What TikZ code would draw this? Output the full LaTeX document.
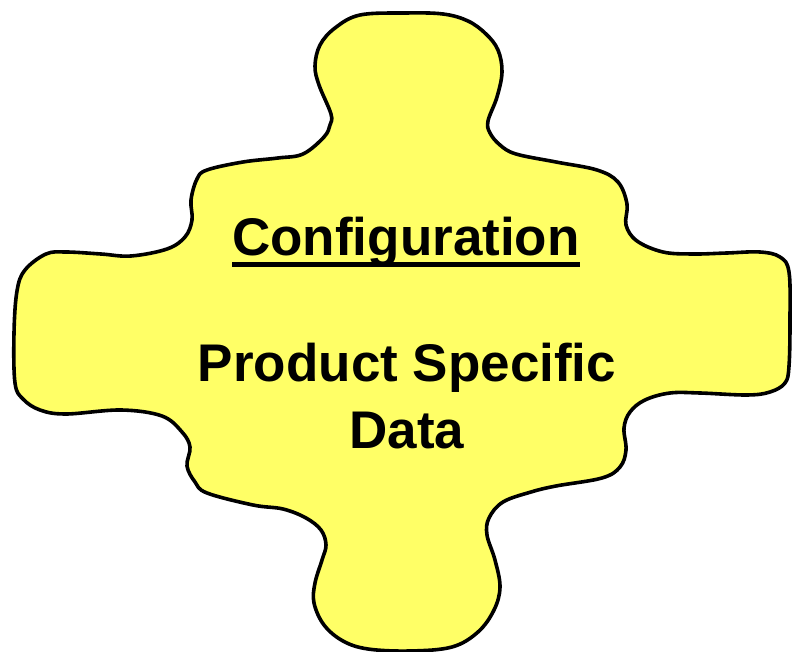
\documentclass[tikz,border=0pt]{standalone}
\usepackage{fontspec}
\setmainfont{Liberation Sans}
\definecolor{blobfill}{RGB}{255,255,102}
\begin{document}
\begin{tikzpicture}[x=1pt,y=-1pt,
  blob/.style={draw=black,line width=3.6pt,fill=blobfill,line join=round},
  label/.style={inner sep=0pt,anchor=base,font=\fontsize{53}{66}\bfseries\selectfont}]
\useasboundingbox (0,0) rectangle (793,652);
\draw[blob] plot[smooth cycle,tension=0.6] coordinates {
(360,15) (405,13) (443,14) (468,21) (486,34) (498,50) (502,72) (497,97) (488,121) (490,133) (500,145) (516,154) (556,162) (597,170) (618,182) (627,204) (626,225) (637,241) (663,252) (693,254) (727,253) (760,252) (780,257) (789,272) (790,320) (789,366) (785,383) (770,392) (747,395) (700,393) (670,393) (645,400) (630,412) (624,428) (626,450) (620,467) (602,478) (556,486) (531,492) (503,502) (489,518) (487,535) (495,560) (500,587) (494,610) (478,632) (452,647) (410,651) (368,649) (343,641) (324,625) (314,603) (315,583) (322,560) (326,545) (321,530) (306,518) (283,509) (253,505) (207,493) (195,482) (187,466) (190,447) (182,432) (162,416) (121,410) (66,414) (40,410) (23,399) (15,383) (14,333) (17,291) (25,270) (46,254) (66,252) (101,254) (131,256) (167,249) (185,237) (192,220) (191,200) (197,179) (207,170) (243,162) (278,158) (303,154) (324,137) (330,125) (331,114) (319,85) (315,66) (320,45) (335,28)};
\node[label] (conf) at (406,256) {Configuration};
\draw[line width=4.5pt] ([yshift=-8.5pt]conf.base west) -- ([yshift=-8.5pt]conf.base east);
\node[label] (prod) at (407,382) {Product Specific};
\node[label] (data) at (407,448) {Data};
\end{tikzpicture}
\end{document}
